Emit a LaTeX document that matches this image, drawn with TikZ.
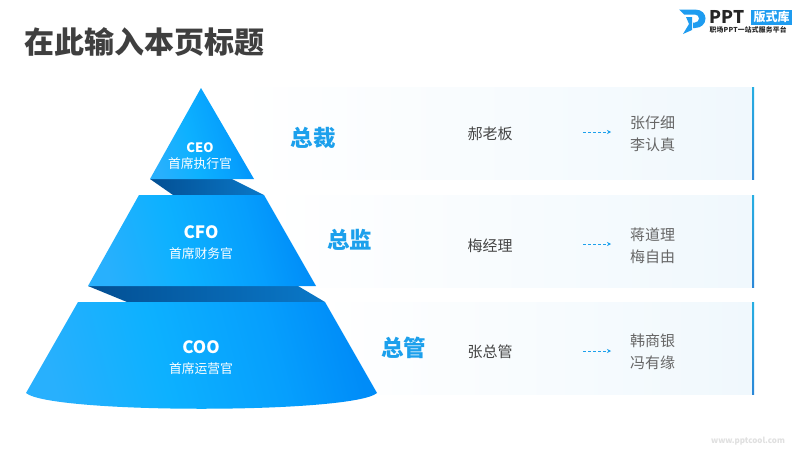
\documentclass[tikz,border=0pt]{standalone}
\usepackage{fontspec}
\setmainfont{Noto Sans CJK SC}
\definecolor{banddark}{HTML}{034F93}
\definecolor{bandlight}{HTML}{0A78C8}
\definecolor{rowend}{HTML}{F0F8FD}
\definecolor{accent}{HTML}{1CA0EC}
\definecolor{bartop}{HTML}{27AEE2}
\definecolor{barbot}{HTML}{2B88D8}
\definecolor{titlecol}{HTML}{3F3F3F}
\definecolor{bodycol}{HTML}{444444}
\definecolor{graycol}{HTML}{666666}
\definecolor{logocol}{HTML}{1E9CF0}
\definecolor{pyl}{HTML}{28B0FD}
\definecolor{pym}{HTML}{0DB1FF}
\definecolor{pyd2}{HTML}{069FFD}
\definecolor{pyd}{HTML}{008CF8}
\usetikzlibrary{arrows.meta}
\pgfdeclarehorizontalshading{pyramidshade}{100bp}{
  color(0bp)=(pyl); color(25bp)=(pyl); color(43bp)=(pym); color(62bp)=(pyd2); color(75bp)=(pyd); color(100bp)=(pyd)}
\tikzset{
  x=1pt,y=-1pt,
  rowfill/.style={left color=white,right color=rowend,draw=none},
  sidebar/.style={top color=bartop,bottom color=barbot,draw=none},
  role/.style={text=accent,font=\fontsize{22.5}{24}\selectfont\bfseries,inner sep=0pt},
  nametext/.style={text=bodycol,font=\fontsize{15}{17}\selectfont,inner sep=0pt},
  subtext/.style={text=graycol,font=\fontsize{15}{22}\selectfont,inner sep=0pt,align=center},
  engl/.style={text=white,inner sep=0pt},
  cnl/.style={text=white,inner sep=0pt,font=\fontsize{12.8}{14}\selectfont},
  flowarrow/.style={draw=accent,densely dashed,line width=0.6pt,-{Stealth[length=4pt,width=4pt]}},
  pyfill/.style={shading=pyramidshade,shading angle=15,draw=none},
  bandfill/.style={left color=banddark,right color=bandlight,draw=none},
}
\begin{document}
\begin{tikzpicture}
\useasboundingbox (0,0) rectangle (800,450);
\fill[white] (0,0) rectangle (800,450);
% rows
\shade[rowfill] (236,87) rectangle (752,179);
\shade[rowfill] (270,195) rectangle (752,287);
\shade[rowfill] (320,302) rectangle (752,394);
\shade[sidebar] (752,87) rectangle (754,179);
\shade[sidebar] (752,195) rectangle (754,287);
\shade[sidebar] (752,302) rectangle (754,394);
% pyramid
\shade[bandfill] (150,179) -- (232,179) -- (264,195) -- (173,195) -- cycle;
\shade[bandfill] (88,286) -- (298,286) -- (325,302) -- (127,302) -- cycle;
\shade[pyfill] (201,88) -- (254,179) -- (150,179) -- cycle;
\shade[pyfill] (139,195) -- (264,195) -- (316,286) -- (88,286) -- cycle;
\shade[pyfill] (78,302) -- (325,302) -- (377,393) .. controls (352,414) and (51,414) .. (26,393) -- cycle;
% pyramid labels
\node[engl,font=\fontsize{13}{15}\selectfont\bfseries] (ceo) at (200,147.5) {CEO};
\node[cnl] (ceocn) at (200,163.5) {首席执行官};
\node[engl,font=\fontsize{17}{19}\selectfont\bfseries] (cfo) at (201,232.5) {CFO};
\node[cnl] (cfocn) at (201,253.5) {首席财务官};
\node[engl,font=\fontsize{17}{19}\selectfont\bfseries] (coo) at (201,347.5) {COO};
\node[cnl] (coocn) at (201,368.5) {首席运营官};
% roles
\node[role] (r1) at (313,138) {总裁};
\node[role] (r2) at (349.5,240) {总监};
\node[role] (r3) at (403.5,348) {总管};
% names
\node[nametext] (n1) at (490,134) {郝老板};
\node[nametext] (n2) at (490,246) {梅经理};
\node[nametext] (n3) at (490,352) {张总管};
% subordinates
\node[subtext] (s1) at (652.5,134) {张仔细\\李认真};
\node[subtext] (s2) at (652.5,246) {蒋道理\\梅自由};
\node[subtext] (s3) at (652.5,352) {韩商银\\冯有缘};
% arrows
\coordinate (a1) at (583,132); \coordinate (b1) at (611,132);
\coordinate (a2) at (583,244); \coordinate (b2) at (611,244);
\coordinate (a3) at (583,351); \coordinate (b3) at (611,351);
\draw[flowarrow] (a1) -- (b1);
\draw[flowarrow] (a2) -- (b2);
\draw[flowarrow] (a3) -- (b3);
% title
\node[text=titlecol,font=\fontsize{30}{32}\selectfont\bfseries,inner sep=0pt,anchor=west] (title) at (24,42) {在此输入本页标题};
% logo
\fill[logocol] (679,9.5) -- (695,9.5) .. controls (702,9.5) and (705.5,14) .. (705.5,18.5) .. controls (705.5,24) and (701,28) .. (695,28) -- (693,28) -- (693,22.5) -- (695,22.5) .. controls (697.5,22.5) and (699,20.5) .. (699,18.5) .. controls (699,16.5) and (697.5,14.5) .. (695,14.5) -- (684,14.5) -- cycle;
\fill[logocol] (686,17) -- (692,17) -- (692,30) -- (683,34) -- (689,24) -- cycle;
\node[text=black!85,font=\fontsize{17.5}{18}\selectfont\bfseries,inner sep=0pt,anchor=west] (ppt) at (709.5,17) {PPT};
\node[fill=logocol,text=white,font=\fontsize{12}{12}\selectfont\bfseries,inner sep=0pt,minimum width=41pt,minimum height=15pt] (brand) at (771.5,17) {版式库};
\node[text=black!85,font=\fontsize{6.8}{8}\selectfont\bfseries\addfontfeatures{LetterSpace=3},inner sep=0pt,anchor=west] (slogan) at (709.5,29.5) {职场PPT一站式服务平台};
% watermark
\node[text=black!12,font=\fontsize{8}{10}\selectfont\bfseries,inner sep=0pt] (web) at (748,441) {www.pptcool.com};
\end{tikzpicture}
\end{document}
